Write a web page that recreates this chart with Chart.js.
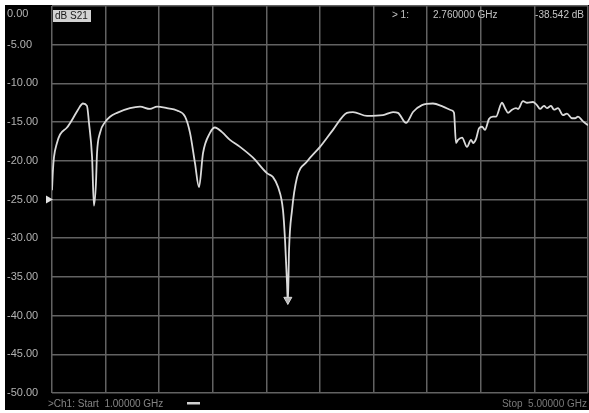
<!DOCTYPE html>
<html>
<head>
<meta charset="utf-8">
<script src="https://cdn.jsdelivr.net/npm/chart.js@4.4.1/dist/chart.umd.min.js"></script>
<style>
  html, body { margin: 0; padding: 0; background: #fff; }
  #wrap { width: 589px; height: 413px; }
</style>
</head>
<body>
<div id="wrap"><canvas id="grafico" width="589" height="413"></canvas></div>
<script>
const freqGHz = [
  1.000, 1.007, 1.015, 1.037, 1.060, 1.112, 1.157, 1.194, 1.231, 1.261,
  1.276, 1.299, 1.313, 1.328, 1.336, 1.358, 1.396, 1.433, 1.485, 1.582,
  1.657, 1.731, 1.784, 1.858, 1.933, 1.993, 2.030, 2.067, 2.097, 2.127,
  2.179, 2.216, 2.269, 2.328, 2.403, 2.500, 2.604, 2.649, 2.687, 2.724,
  2.739, 2.754, 2.760, 2.769, 2.791, 2.828, 2.903, 3.000, 3.097, 3.201,
  3.246, 3.351, 3.470, 3.545, 3.582, 3.642, 3.694, 3.761, 3.843, 3.918,
  3.985, 4.000, 4.015, 4.030, 4.060, 4.097, 4.127, 4.142, 4.164, 4.187,
  4.209, 4.231, 4.261, 4.291, 4.313, 4.358, 4.381, 4.403, 4.433, 4.463,
  4.478, 4.515, 4.545, 4.590, 4.619, 4.642, 4.672, 4.694, 4.724, 4.746,
  4.776, 4.813, 4.843, 4.881, 4.903, 4.925, 4.963, 5.000
];
const s21dB = [
  -23.8, -21.2, -19.5, -17.7, -16.6, -15.7, -14.5, -13.4, -12.6, -12.9,
  -15.1, -19.5, -25.8, -22.9, -19.0, -16.4, -15.0, -14.3, -13.8, -13.2,
  -13.0, -13.3, -13.0, -13.2, -13.5, -14.3, -16.4, -20.3, -23.4, -19.0,
  -16.4, -15.7, -16.3, -17.3, -18.2, -19.6, -21.6, -22.1, -23.4, -26.4,
  -30.2, -35.8, -38.5, -31.5, -26.4, -22.2, -20.1, -18.2, -16.0, -13.8,
  -13.7, -14.2, -14.1, -13.7, -13.8, -15.1, -13.7, -12.8, -12.6, -13.0,
  -13.5, -13.8, -17.7, -17.3, -17.0, -18.2, -17.3, -17.7, -17.2, -15.8,
  -15.6, -16.0, -14.6, -14.3, -14.3, -12.5, -13.2, -13.8, -13.4, -13.2,
  -13.3, -12.3, -12.5, -12.4, -12.8, -13.3, -12.9, -13.2, -12.9, -13.4,
  -13.2, -14.1, -13.9, -14.5, -14.5, -14.3, -14.9, -15.4
];

// divisões da grade
const yTicks = [0, -5, -10, -15, -20, -25, -30, -35, -40, -45, -50];
const xGrid = [1.0, 1.4, 1.8, 2.2, 2.6, 3.0, 3.4, 3.8, 4.2, 4.6, 5.0];

// marcador 1 e nível de referência
const marcadorFreq = [2.76];
const marcadorDb = [-38.542];
const nivelRef = [-25];
const inicioFim = [1.0, 5.0];

const corGrade = '#626262';
const corTraco = '#dadada';
const fonte = '"Liberation Sans", Arial, sans-serif';

// fundo preto da tela do instrumento
const fundoTela = {
  id: 'fundoTela',
  beforeDraw(chart) {
    const ctx = chart.ctx;
    ctx.save();
    ctx.fillStyle = '#fff';
    ctx.fillRect(0, 0, chart.width, chart.height);
    ctx.fillStyle = '#000';
    ctx.fillRect(5, 5, chart.width - 5, chart.height - 8);
    ctx.restore();
  }
};

// textos e símbolos da tela
const anotacoes = {
  id: 'anotacoes',
  afterDraw(chart) {
    const ctx = chart.ctx;
    const sx = chart.scales.x, sy = chart.scales.y;
    ctx.save();

    // rótulos do eixo Y
    ctx.font = '11px ' + fonte;
    ctx.fillStyle = '#b2b2b2';
    ctx.textAlign = 'left';
    ctx.textBaseline = 'middle';
    yTicks.forEach(v => {
      const y = Math.max(sy.getPixelForValue(v), 14);
      ctx.fillText(v.toFixed(2), 7, y);
    });

    // caixa "dB S21"
    ctx.fillStyle = '#d2d2d2';
    ctx.fillRect(53, 10, 38, 12);
    ctx.fillStyle = '#1a1a1a';
    ctx.font = '10px ' + fonte;
    ctx.fillText('dB S21', 55, 16.5);

    // leitura do marcador
    ctx.fillStyle = '#c4c4c4';
    ctx.fillText('> 1:', 392, 15);
    ctx.fillText(marcadorFreq[0].toFixed(6) + ' GHz', 433, 15);
    ctx.textAlign = 'right';
    ctx.fillText(marcadorDb[0].toFixed(3) + ' dB', 584, 15);

    // rodapé
    ctx.fillStyle = '#858585';
    ctx.textAlign = 'left';
    ctx.fillText('>Ch1: Start  ' + inicioFim[0].toFixed(5) + ' GHz', 48, 404);
    ctx.fillStyle = '#d0d0d0';
    ctx.fillRect(187, 402, 13, 2.5);
    ctx.fillStyle = '#7a7a7a';
    ctx.textAlign = 'right';
    ctx.fillText('Stop  ' + inicioFim[1].toFixed(5) + ' GHz', 587, 404);

    // triângulo do nível de referência
    const yr = sy.getPixelForValue(nivelRef[0]);
    ctx.fillStyle = '#e2e2e2';
    ctx.beginPath();
    ctx.moveTo(46, yr - 4);
    ctx.lineTo(53, yr);
    ctx.lineTo(46, yr + 4);
    ctx.closePath();
    ctx.fill();

    // seta do marcador 1
    const mx = sx.getPixelForValue(marcadorFreq[0]);
    const my = sy.getPixelForValue(marcadorDb[0]);
    ctx.fillStyle = '#b8b8b8';
    ctx.strokeStyle = '#d8d8d8';
    ctx.lineWidth = 1;
    ctx.beginPath();
    ctx.moveTo(mx - 4, my - 7);
    ctx.lineTo(mx + 4, my - 7);
    ctx.lineTo(mx, my);
    ctx.closePath();
    ctx.fill();
    ctx.stroke();

    ctx.restore();
  }
};

new Chart(document.getElementById('grafico'), {
  type: 'line',
  data: {
    datasets: [{
      label: 'S21',
      data: freqGHz.map((f, i) => ({ x: f, y: s21dB[i] })),
      borderColor: corTraco,
      borderWidth: 1.8,
      pointRadius: 0,
      cubicInterpolationMode: 'monotone',
      fill: false
    }]
  },
  options: {
    responsive: false,
    animation: false,
    events: [],
    layout: { padding: { left: 52, top: 6, right: 1, bottom: 20 } },
    plugins: {
      legend: { display: false },
      tooltip: { enabled: false }
    },
    scales: {
      x: {
        type: 'linear',
        min: 1,
        max: 5,
        afterBuildTicks: s => { s.ticks = xGrid.map(v => ({ value: v })); },
        ticks: { display: false },
        grid: { color: corGrade, lineWidth: 1.5, drawTicks: false },
        border: { display: false }
      },
      y: {
        min: -50,
        max: 0,
        afterBuildTicks: s => { s.ticks = yTicks.map(v => ({ value: v })); },
        ticks: { display: false },
        grid: { color: corGrade, lineWidth: 1.5, drawTicks: false },
        border: { display: false }
      }
    }
  },
  plugins: [fundoTela, anotacoes]
});
</script>
</body>
</html>
